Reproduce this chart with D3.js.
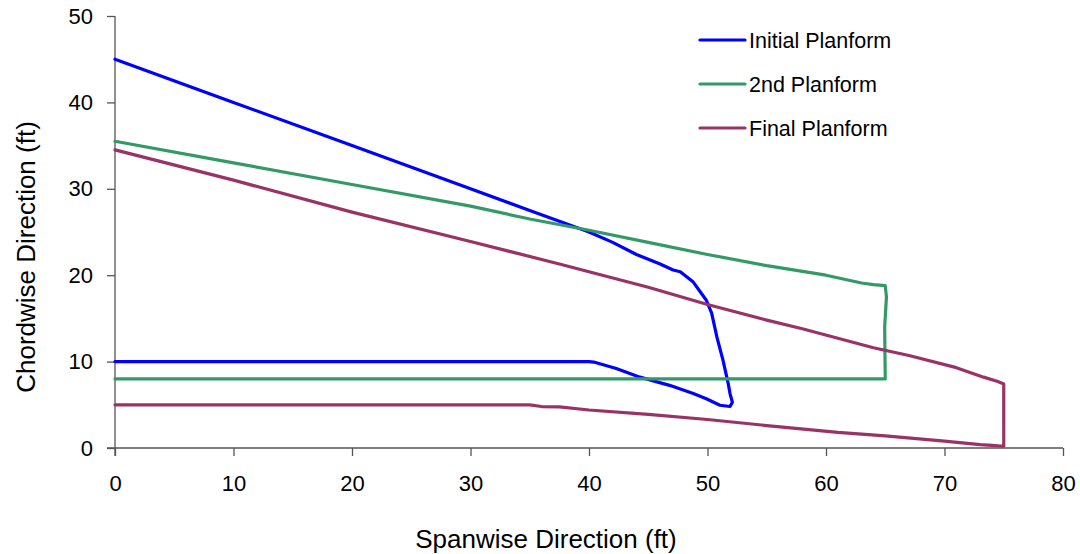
<!DOCTYPE html>
<html>
<head>
<meta charset="utf-8">
<script src="https://cdn.jsdelivr.net/npm/d3@7"></script>
<style>
  body { margin: 0; background: #fff; }
  svg { font-family: "Liberation Sans", Arial, sans-serif; }
</style>
</head>
<body>
<div id="chart-area"></div>
<script>
// planform outlines, [spanwise ft, chordwise ft]
var initialPlanform = [
    [0, 45], [10, 40], [20, 35], [30, 30], [35, 27.5], [40, 25], [42, 23.8], [44, 22.4],
    [46, 21.3], [47.1, 20.6], [47.7, 20.4], [48.8, 19.2], [49.9, 17.1], [50.35, 15.6],
    [50.8, 12.8], [51.3, 10.2], [51.75, 7.45], [51.9, 6.3], [52.1, 5.3], [51.9, 4.8],
    [51.05, 4.95], [49.9, 5.7], [48.8, 6.3], [46.8, 7.25], [44.3, 8.2], [43.5, 8.6],
    [42.3, 9.2], [40.4, 9.95], [40, 10], [0, 10]
];
var secondPlanform = [
    [0, 35.5], [10, 33], [20, 30.5], [30, 28], [35, 26.5], [40, 25.2], [45, 23.8],
    [50, 22.4], [55, 21.1], [60, 20], [63, 19.1], [64, 18.9], [65, 18.8], [65.1, 17.5],
    [64.95, 14], [65, 8], [0, 8]
];
var finalPlanform = [
    [0, 34.5], [10, 31], [20, 27.3], [30, 23.9], [37.5, 21.3], [45, 18.6], [50, 16.6],
    [55, 14.8], [58, 13.8], [61, 12.7], [64, 11.6], [67, 10.7], [71, 9.3], [73.3, 8.2],
    [74.5, 7.7], [75, 7.4], [75, 0.2], [74, 0.3], [73, 0.4], [70, 0.8], [65, 1.4],
    [61, 1.8], [55, 2.6], [50, 3.3], [45, 3.9], [40, 4.4], [37.5, 4.75], [36, 4.8],
    [35, 5], [0, 5]
];
var seriesNames = ["Initial Planform", "2nd Planform", "Final Planform"];
var seriesColors = ["#0000FF", "#339966", "#993366"];
var xTicks = [0, 10, 20, 30, 40, 50, 60, 70, 80];
var yTicks = [0, 10, 20, 30, 40, 50];

var margin = { left: 115, right: 17, top: 16, bottom: 106 };
var width = 1080 - margin.left - margin.right,
    height = 554 - margin.top - margin.bottom;

var svg = d3.select("#chart-area").append("svg")
    .attr("width", 1080)
    .attr("height", 554);

var g = svg.append("g").attr("transform", "translate(" + margin.left + ", " + margin.top + ")");

var x = d3.scaleLinear().domain([0, 80]).range([0, width]);
var y = d3.scaleLinear().domain([0, 50]).range([height, 0]);

// Axes
var bottomAxis = d3.axisBottom(x).tickValues(xTicks).tickSize(8).tickPadding(19);
var xAxis = g.append("g")
    .attr("transform", "translate(0, " + height + ")")
    .call(bottomAxis);
var leftAxis = d3.axisLeft(y).tickValues(yTicks).tickSize(8).tickPadding(14);
var yAxis = g.append("g").call(leftAxis);

[xAxis, yAxis].forEach((ax) => {
    ax.selectAll("path").attr("stroke", "#555").attr("stroke-width", 1.3);
    ax.selectAll("line").attr("stroke", "#555").attr("stroke-width", 1.3);
    ax.selectAll("text")
        .attr("font-size", "22px")
        .attr("font-family", "Liberation Sans, Arial, sans-serif")
        .style("fill", "black");
});
xAxis.select(".domain").attr("d", "M-8,0H" + width);
yAxis.select(".domain").attr("d", "M0," + (height + 8) + "V0");

// Lines
var line = d3.line()
    .x((d) => { return x(d[0]); })
    .y((d) => { return y(d[1]); })
    .curve(d3.curveLinear);

[initialPlanform, secondPlanform, finalPlanform].forEach((data, i) => {
    g.append("path")
        .datum(data)
        .attr("fill", "none")
        .attr("stroke", seriesColors[i])
        .attr("stroke-width", 3.2)
        .attr("stroke-linejoin", "round")
        .attr("stroke-linecap", "round")
        .attr("d", line);
});

// Legend
var legend = svg.append("g").attr("transform", "translate(700, 40)");
seriesNames.forEach((name, i) => {
    var row = legend.append("g").attr("transform", "translate(0, " + (i * 44) + ")");
    row.append("line")
        .attr("x1", 0).attr("x2", 45)
        .attr("y1", 0).attr("y2", 0)
        .attr("stroke", seriesColors[i])
        .attr("stroke-width", 3.2)
        .attr("stroke-linecap", "round");
    row.append("text")
        .attr("x", 49)
        .attr("y", 8)
        .attr("font-size", "21.5px")
        .style("fill", "black")
        .text(name);
});

// X Label
svg.append("text")
    .attr("x", 546)
    .attr("y", 548)
    .attr("font-size", "26px")
    .attr("text-anchor", "middle")
    .style("fill", "black")
    .text("Spanwise Direction (ft)");
// Y Label
svg.append("text")
    .attr("x", -257)
    .attr("y", 35)
    .attr("font-size", "26px")
    .attr("text-anchor", "middle")
    .attr("transform", "rotate(-90)")
    .style("fill", "black")
    .text("Chordwise Direction (ft)");
</script>
</body>
</html>
